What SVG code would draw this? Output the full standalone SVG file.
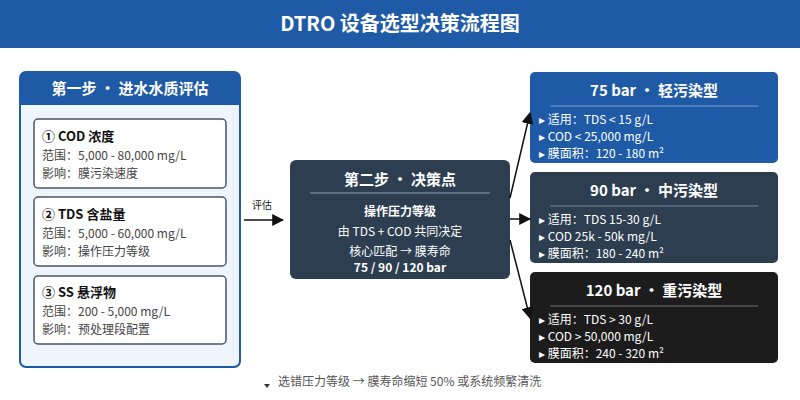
<svg xmlns="http://www.w3.org/2000/svg" width="800" height="400" viewBox="0 0 800 400">
<defs>
<marker id="ah" viewBox="0 0 10 10" refX="9" refY="5" markerWidth="8" markerHeight="8" markerUnits="strokeWidth" orient="auto">
<path d="M0,0 L10,5 L0,10 z" fill="#111"/>
</marker>
<marker id="ah2" viewBox="0 0 10 10" refX="9" refY="5" markerWidth="8" markerHeight="8" markerUnits="strokeWidth" orient="auto">
<path d="M0,0 L10,5 L0,10 z" fill="#111"/>
</marker>
</defs>
<style>
text{font-family:"Noto Sans CJK SC","Noto Sans",sans-serif}
.hd{fill:#fff;font-weight:bold;font-size:15px;text-anchor:middle}
.ct{fill:#111;font-weight:bold;font-size:13px}
.cb{fill:#444;font-size:12px}
.card{fill:#fff;stroke:#4a5566;stroke-width:1.5}
.bl{fill:#fff;font-size:12px}
.wc{fill:#fff;font-size:12px;text-anchor:middle}
.con{stroke:#111;stroke-width:1.5;fill:none}
</style>
<rect x="0" y="0" width="800" height="48" fill="#1f5aa6"/>
<text x="400" y="31" fill="#fff" font-size="20" font-weight="bold" text-anchor="middle">DTRO 设备选型决策流程图</text>

<g id="step1">
<rect x="20" y="72" width="220" height="295" rx="6" fill="#eef5fd" stroke="#1f5aa6" stroke-width="2"/>
<path d="M20,105 V78 a6,6 0 0 1 6,-6 H234 a6,6 0 0 1 6,6 V105 z" fill="#1f5aa6"/>
<text class="hd" x="130" y="94">第一步 · 进水水质评估</text>
</g>
<g id="card-cod">
<rect class="card" x="34" y="119" width="192" height="69" rx="4"/>
<text class="ct" x="42" y="141">① COD 浓度</text>
<text class="cb" x="42" y="160">范围：5,000 - 80,000 mg/L</text>
<text class="cb" x="42" y="178">影响：膜污染速度</text>
</g>
<g id="card-tds">
<rect class="card" x="34" y="197" width="192" height="69" rx="4"/>
<text class="ct" x="42" y="219">② TDS 含盐量</text>
<text class="cb" x="42" y="238">范围：5,000 - 60,000 mg/L</text>
<text class="cb" x="42" y="256">影响：操作压力等级</text>
</g>
<g id="card-ss">
<rect class="card" x="34" y="276" width="192" height="68" rx="4"/>
<text class="ct" x="42" y="297">③ SS 悬浮物</text>
<text class="cb" x="42" y="316">范围：200 - 5,000 mg/L</text>
<text class="cb" x="42" y="334">影响：预处理段配置</text>
</g>

<g id="step2">
<rect x="290" y="160" width="220" height="119" rx="6" fill="#2c3e50"/>
<text class="hd" x="400" y="185">第二步 · 决策点</text>
<line x1="310" y1="193" x2="490" y2="193" stroke="#6b7f93" stroke-width="1.5"/>
<text x="400" y="216" fill="#fff" font-size="12" font-weight="bold" text-anchor="middle">操作压力等级</text>
<text class="wc" x="400" y="236">由 TDS + COD 共同决定</text>
<text class="wc" x="400" y="256">核心匹配 → 膜寿命</text>
<text x="400" y="272" fill="#fff" font-size="12" font-weight="bold" text-anchor="middle">75 / 90 / 120 bar</text>
</g>

<g id="p75">
<rect x="530" y="72" width="248" height="91" rx="5" fill="#1f5aa6"/>
<text class="hd" x="654" y="96">75 bar · 轻污染型</text>
<line x1="550" y1="106" x2="758" y2="106" stroke="#5b86c4" stroke-width="1.5"/>
<text class="bl" x="539" y="124">▸ 适用：TDS &lt; 15 g/L</text>
<text class="bl" x="539" y="141">▸ COD &lt; 25,000 mg/L</text>
<text class="bl" x="539" y="158">▸ 膜面积：120 - 180 m²</text>
</g>
<g id="p90">
<rect x="530" y="172" width="248" height="91" rx="5" fill="#2c3e50"/>
<text class="hd" x="654" y="196">90 bar · 中污染型</text>
<line x1="550" y1="206" x2="758" y2="206" stroke="#5d6f82" stroke-width="1.5"/>
<text class="bl" x="539" y="224">▸ 适用：TDS 15-30 g/L</text>
<text class="bl" x="539" y="241">▸ COD 25k - 50k mg/L</text>
<text class="bl" x="539" y="258">▸ 膜面积：180 - 240 m²</text>
</g>
<g id="p120">
<rect x="530" y="272" width="248" height="91" rx="5" fill="#1c1c1c"/>
<text class="hd" x="654" y="296">120 bar · 重污染型</text>
<line x1="550" y1="306" x2="758" y2="306" stroke="#555" stroke-width="1.5"/>
<text class="bl" x="539" y="324">▸ 适用：TDS &gt; 30 g/L</text>
<text class="bl" x="539" y="341">▸ COD &gt; 50,000 mg/L</text>
<text class="bl" x="539" y="358">▸ 膜面积：240 - 320 m²</text>
</g>

<g id="connectors">
<line class="con" x1="244" y1="220" x2="283" y2="220" stroke-width="2" marker-end="url(#ah)"/>
<text x="262" y="209" fill="#222" font-size="10" text-anchor="middle">评估</text>
<line class="con" x1="510" y1="198" x2="530" y2="113" marker-end="url(#ah2)"/>
<line class="con" x1="510" y1="219" x2="530" y2="219" marker-end="url(#ah2)"/>
<line class="con" x1="510" y1="240" x2="530" y2="318" marker-end="url(#ah2)"/>
</g>

<g id="note">
<path d="M264,384 h6 l-3,4 z" fill="#333"/>
<text x="278" y="386" fill="#555" font-size="12">选错压力等级 → 膜寿命缩短 50% 或系统频繁清洗</text>
</g>
</svg>
